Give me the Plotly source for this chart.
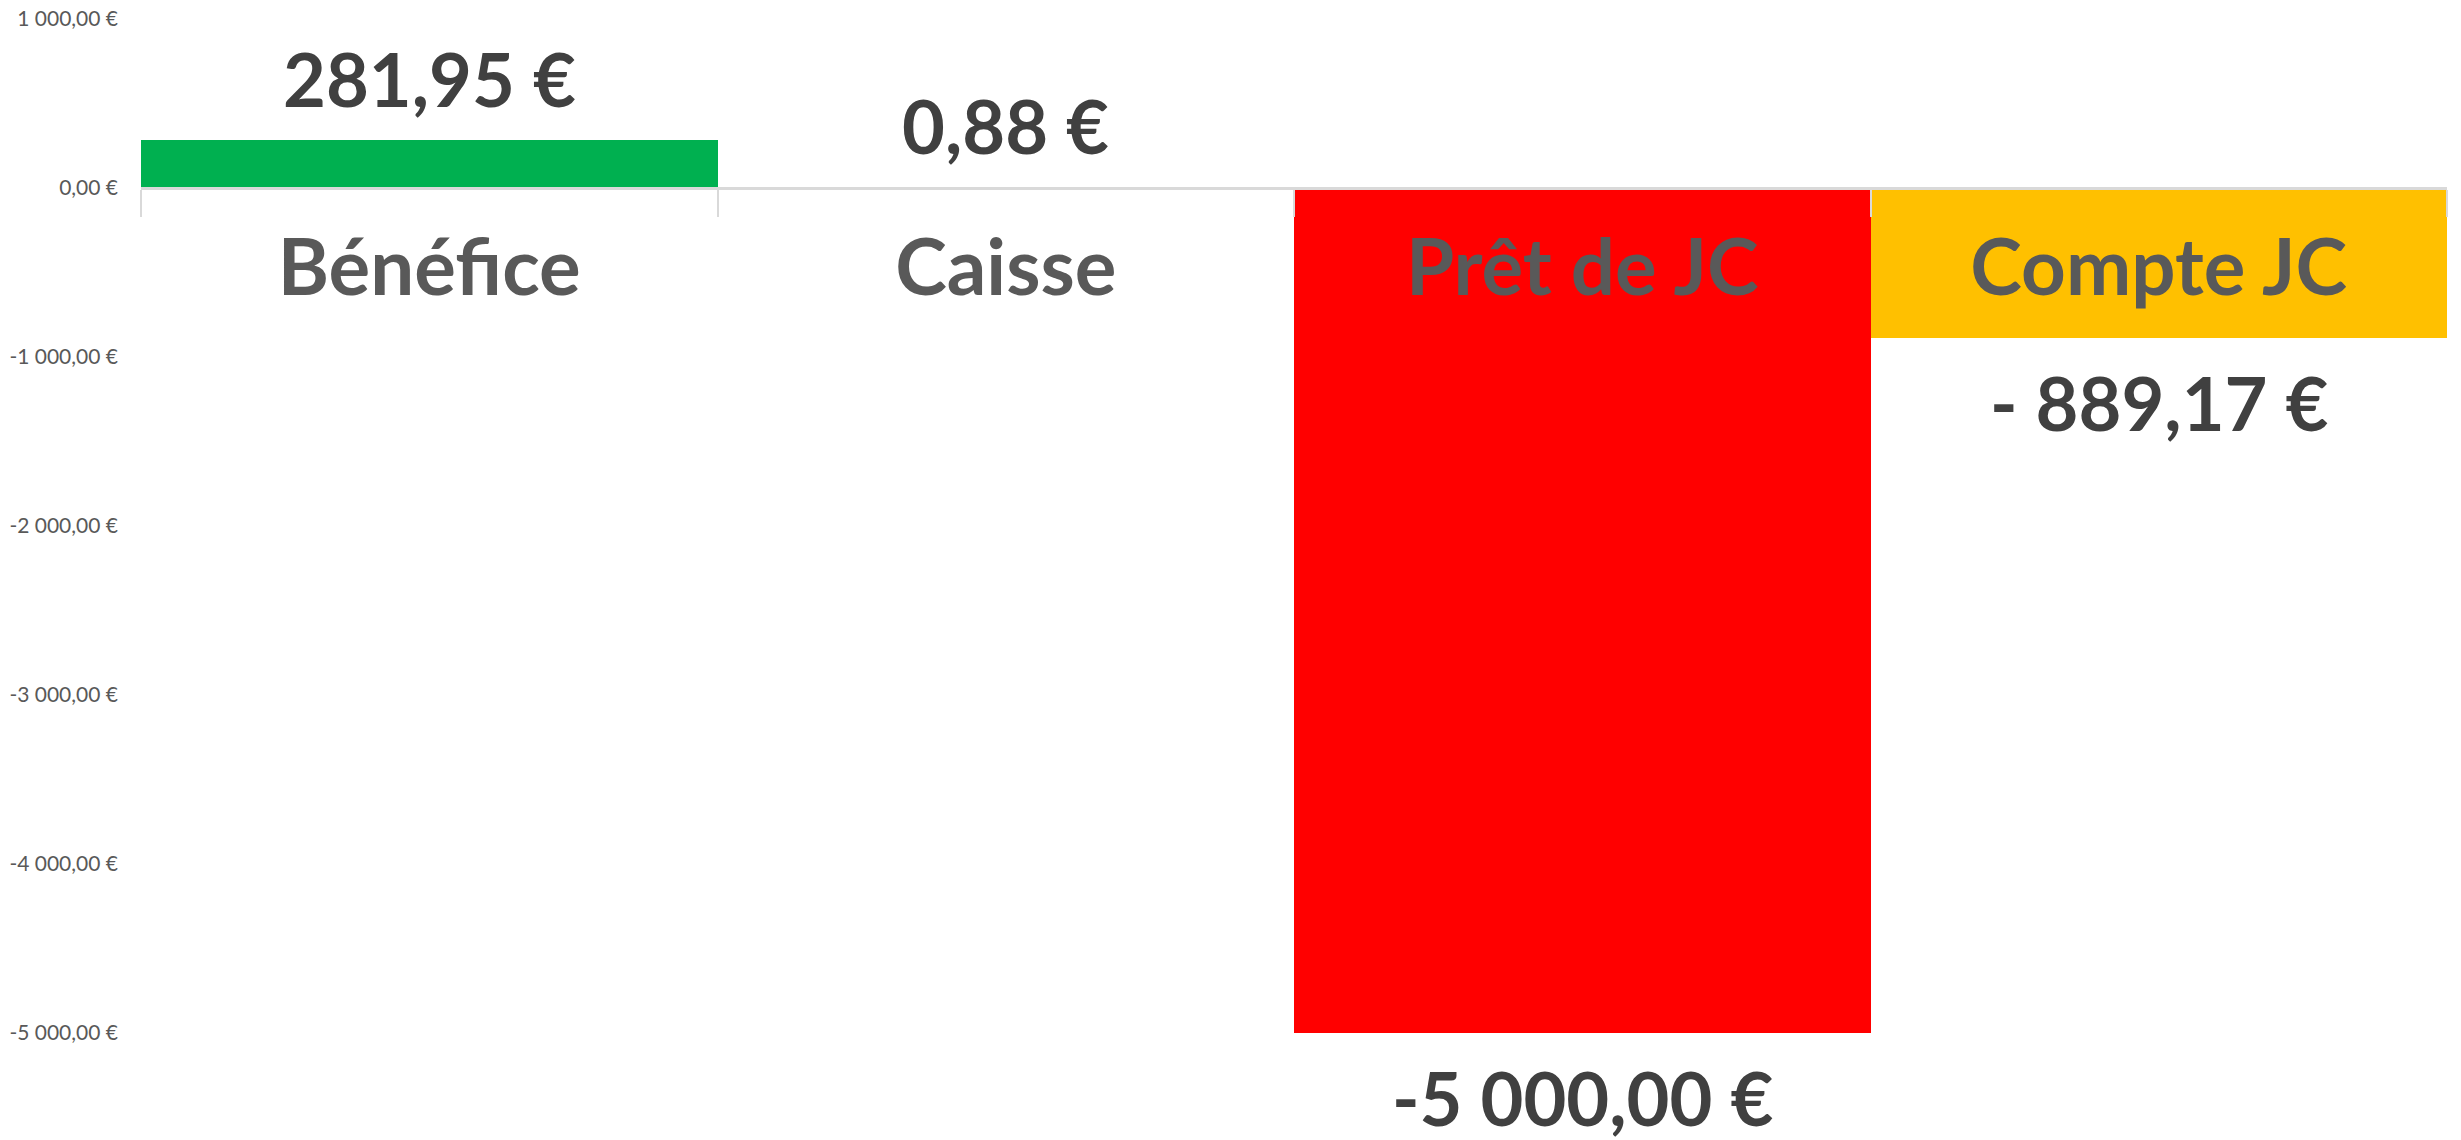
import plotly.graph_objects as go

categories = ["Bénéfice", "Caisse", "Prêt de JC", "Compte JC"]
values = [281.95, 0.88, -5000.00, -889.17]
value_labels = ["281,95 €", "0,88 €", "-5 000,00 €", "- 889,17 €"]
bar_colors = ["#00B050", "#A5A5A5", "#FF0000", "#FFC000"]

y_tickvals = [1000, 0, -1000, -2000, -3000, -4000, -5000]
y_ticktext = ["1 000,00 €", "0,00 €", "-1 000,00 €", "-2 000,00 €",
              "-3 000,00 €", "-4 000,00 €", "-5 000,00 €"]
y_min, y_max = -5000, 1000

FONT = "Lato"

fig = go.Figure()
fig.add_trace(go.Bar(
    x=categories,
    y=values,
    marker=dict(color=bar_colors, line=dict(width=0)),
    width=1.0,
    hoverinfo="skip",
))

annotations = []
for cat, v, lab in zip(categories, values, value_labels):
    annotations.append(dict(
        x=cat, y=v, xref="x", yref="y",
        text=lab, showarrow=False,
        yanchor="middle", xanchor="center",
        yshift=62 if v >= 0 else -64,
        font=dict(family=FONT, size=74, color="#404040", weight="bold"),
    ))

zero_pos = (0 - y_min) / (y_max - y_min)

# page body has an 8px default margin: figure sized to fit the window
fig.update_layout(
    width=2453, height=1132,
    margin=dict(l=133, r=14, t=11, b=107),
    paper_bgcolor="white", plot_bgcolor="white",
    showlegend=False,
    bargap=0,
    annotations=annotations,
    xaxis=dict(
        type="category",
        anchor="free", position=zero_pos,
        showline=True, linecolor="#D9D9D9", linewidth=2.5,
        ticks="outside", tickson="boundaries", ticklen=27,
        tickcolor="#D9D9D9", tickwidth=2,
        showgrid=False, zeroline=False,
        tickfont=dict(family=FONT, size=78, color="#595959", weight="bold"),
        ticklabelstandoff=12,
        automargin=False,
        layer="above traces",
        range=[-0.5, len(categories) - 0.5],
    ),
    yaxis=dict(
        range=[y_min, y_max],
        tickvals=y_tickvals, ticktext=y_ticktext,
        showgrid=False, zeroline=False, showline=False,
        ticks="", ticklabelstandoff=22,
        ticklabeloverflow="allow",
        tickfont=dict(family=FONT, size=21, color="#595959"),
        automargin=False,
    ),
)

fig.write_html("out.html")
